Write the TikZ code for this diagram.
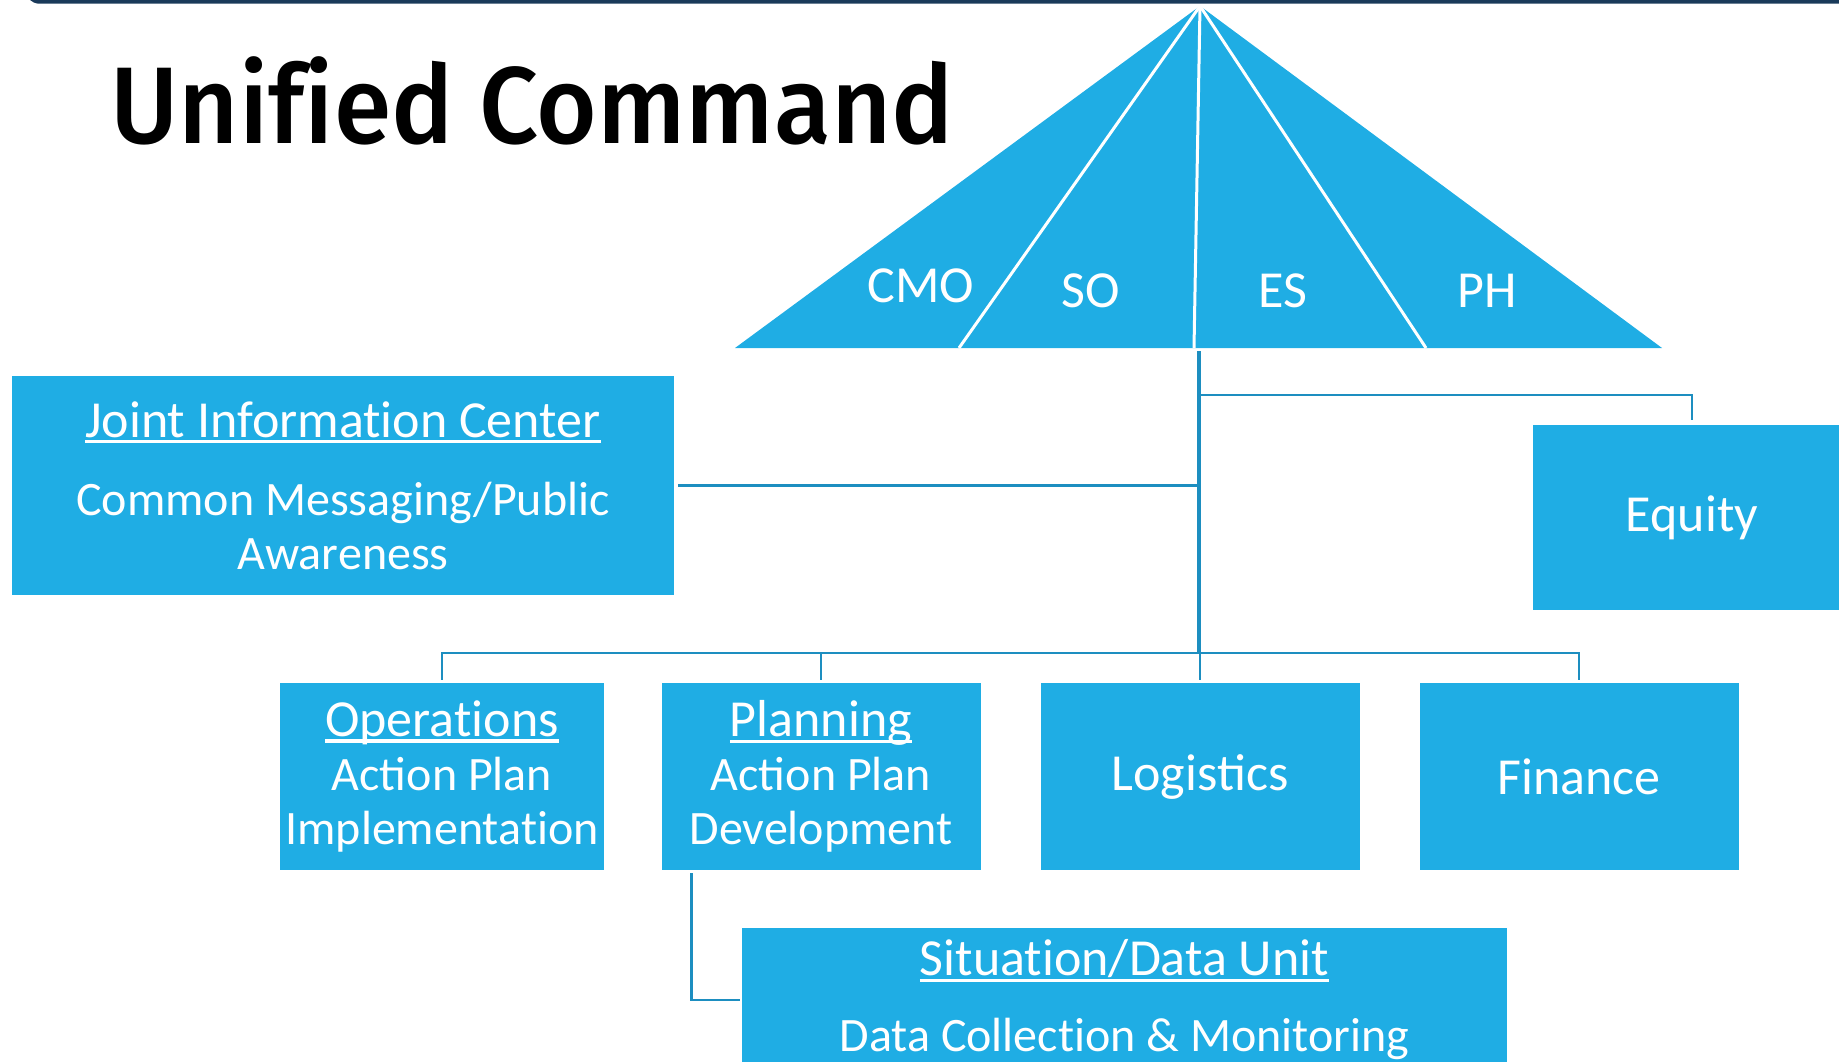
\documentclass[tikz,border=0pt]{standalone}
\usepackage{fontspec}
\setmainfont{Carlito}
\newfontfamily\titlefont{Fira Sans Medium}[FakeStretch=0.955]
\usepackage{tikz}
\usetikzlibrary{positioning}
\definecolor{boxblue}{RGB}{31,173,228}
\definecolor{linkblue}{RGB}{29,142,192}
\definecolor{framenavy}{RGB}{26,58,90}
\newcommand{\headtext}[1]{\leavevmode{\fontsize{52}{56}\selectfont\setbox0\hbox{#1}\rlap{\rule[-0.12em]{\wd0}{0.065em}}\box0}}
\newcommand{\nolig}{\kern0pt} % keeps t and i apart
\tikzset{
	unit/.style={fill=boxblue, text=white, align=center, inner sep=0pt, font=\fontsize{48}{54}\selectfont}, % sets the look of every box
	bigunit/.style={unit, font=\fontsize{52}{56}\selectfont}, % boxes with one big word
	link/.style={draw=linkblue, line width=2.8pt}, % thin connectors between boxes
	trunk/.style={draw=linkblue, line width=4pt}, % the main line under the roof
	roof/.style={white, font=\fontsize{52}{56}\selectfont, anchor=base}, % text on the roof
}
\begin{document}
\begin{tikzpicture}[x=1pt, y=-1pt, node distance=379pt, on grid]
		\useasboundingbox (0,0) rectangle (1839,1062);
		% Frame and title
		\draw[framenavy, line width=3.5pt, rounded corners=14pt] (26,-40) -- (26,2) -- (1850,2);
		\node[anchor=base west, font=\titlefont\fontsize{109}{120}\selectfont] (title) at (107,143) {Unif\nolig ied Command};
		
		% Roof
		\coordinate (apex) at (1200,6);
		\coordinate (roofleft) at (735,348);
		\coordinate (roofright) at (1662,348);
		\fill[boxblue] (apex) -- (roofleft) -- (roofright) -- cycle;
		\foreach \xbase in {959,1194,1426}
			\draw[white, line width=3pt] (apex) -- (\xbase,348);
		\node[roof] (cmo) at (921,302) {CMO};
		\node[roof] (so) at (1091,307) {SO};
		\node[roof] (es) at (1283,307) {ES};
		\node[roof] (ph) at (1487,307) {PH};
		
		% Define boxes
		\node[unit, minimum width=662pt, minimum height=219pt] (jic) at (343,485.5)
			{\headtext{Joint Informat\nolig ion Center}\\[24pt]Common Messaging/Public\\Awareness};
		\node[bigunit, minimum width=318pt, minimum height=185pt] (equity) at (1692,517.5) {Equity};
		\node[unit, minimum width=324pt, minimum height=187pt] (ops) at (442,776.5)
			{\headtext{Operat\nolig ions}\\Action Plan\\Implementat\nolig ion};
		\node[unit, minimum width=319pt, minimum height=187pt, right=of ops] (plan)
			{\headtext{Planning}\\Action Plan\\Development};
		\node[bigunit, minimum width=319pt, minimum height=187pt, right=of plan] (log) {Logistics};
		\node[bigunit, minimum width=319pt, minimum height=187pt, right=of log] (fin) {Finance};
		\node[unit, minimum width=765pt, minimum height=144pt] (sit) at (1124.5,1000)
			{\headtext{Situat\nolig ion/Data Unit}\\[22pt]Data Collect\nolig ion \& Monitoring};
		
		% Connectors
		\coordinate (roofbase) at (1199,351);
		\coordinate (eqfork) at (1199,395);
		\coordinate (bus) at (1199,653);
		\draw[trunk] (roofbase) -- (bus);
		\draw[link, shorten >=5pt] (eqfork) -| (equity.north);
		\draw[link, shorten <=4pt] (jic.east) -- (jic.east -| bus);
		\foreach \unitname in {ops,plan,log,fin}
			\draw[link, shorten >=3pt] (bus) -| (\unitname.north);
		\draw[link, shorten <=3pt, shorten >=2pt] ([xshift=30pt]plan.south west) |- (sit.west);
	\end{tikzpicture}
\end{document}
